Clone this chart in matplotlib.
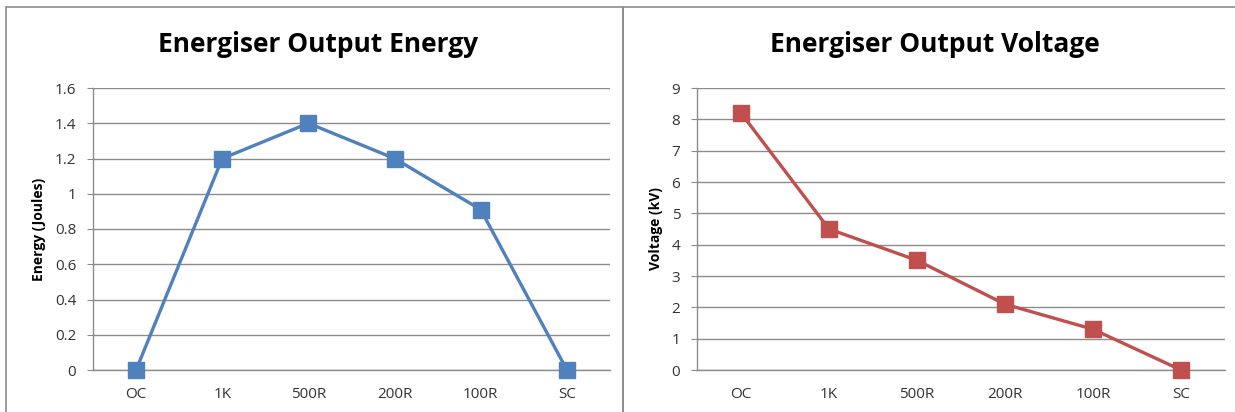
import matplotlib
matplotlib.use('Agg')

import matplotlib.pyplot as plt
from matplotlib.patches import Rectangle

loads = ['OC', '1K', '500R', '200R', '100R', 'SC']
energy = [0, 1.2, 1.4, 1.2, 0.91, 0]
voltage = [8.2, 4.5, 3.5, 2.1, 1.3, 0]
energy_ticks = [0, 0.2, 0.4, 0.6, 0.8, 1, 1.2, 1.4, 1.6]
energy_tick_labels = ['0', '0.2', '0.4', '0.6', '0.8', '1', '1.2', '1.4', '1.6']
voltage_ticks = [0, 1, 2, 3, 4, 5, 6, 7, 8, 9]

W, H = 1235, 412
plt.rcParams['font.family'] = ['Open Sans', 'DejaVu Sans']

fig = plt.figure(figsize=(W / 100, H / 100), dpi=100)

# chart frames
fig.patches.append(Rectangle((6 / W, -0.05), 617 / W, 1 - 7 / H + 0.05,
                             transform=fig.transFigure, fill=False,
                             edgecolor='#8c8c8c', linewidth=1.2))
fig.patches.append(Rectangle((623 / W, -0.05), 700 / W, 1 - 7 / H + 0.05,
                             transform=fig.transFigure, fill=False,
                             edgecolor='#8c8c8c', linewidth=1.2))


def make_chart(left, right, values, color, title, ylabel, yticks, ylabels, title_x):
    ax = fig.add_axes([left / W, (H - 370) / H, (right - left) / W, 282 / H])
    x = list(range(len(loads)))
    ax.plot(x, values, color=color, linewidth=2.4, marker='s',
            markersize=11, markerfacecolor=color, markeredgecolor=color,
            clip_on=False, zorder=3)
    ax.set_xlim(-0.5, len(loads) - 0.5)
    ax.set_ylim(yticks[0], yticks[-1])
    ax.set_yticks(yticks)
    ax.set_yticklabels(ylabels)
    ax.set_xticks(x)
    ax.set_xticklabels(loads)
    ax.grid(axis='y', color='#8c8c8c', linewidth=1)
    ax.set_axisbelow(True)
    for s in ['top', 'right']:
        ax.spines[s].set_visible(False)
    for s in ['left', 'bottom']:
        ax.spines[s].set_color('#8c8c8c')
        ax.spines[s].set_linewidth(1)
    ax.tick_params(axis='y', length=4, color='#8c8c8c', labelsize=11,
                   labelcolor='#333333', pad=8)
    ax.tick_params(axis='x', length=0, labelsize=11, labelcolor='#333333', pad=12)
    ax.set_ylabel(ylabel, fontsize=10, fontweight='bold', labelpad=6)
    fig.text(title_x / W, 1 - 45 / H, title, ha='center', va='center',
             fontsize=19, fontweight='bold')
    return ax


make_chart(93, 610, energy, '#4F81BD', 'Energiser Output Energy',
           'Energy (Joules)', energy_ticks, energy_tick_labels, 318)
make_chart(697, 1225, voltage, '#C0504D', 'Energiser Output Voltage',
           'Voltage (kV)', voltage_ticks, [str(v) for v in voltage_ticks], 935)

plt.savefig('out.png', dpi=100)
